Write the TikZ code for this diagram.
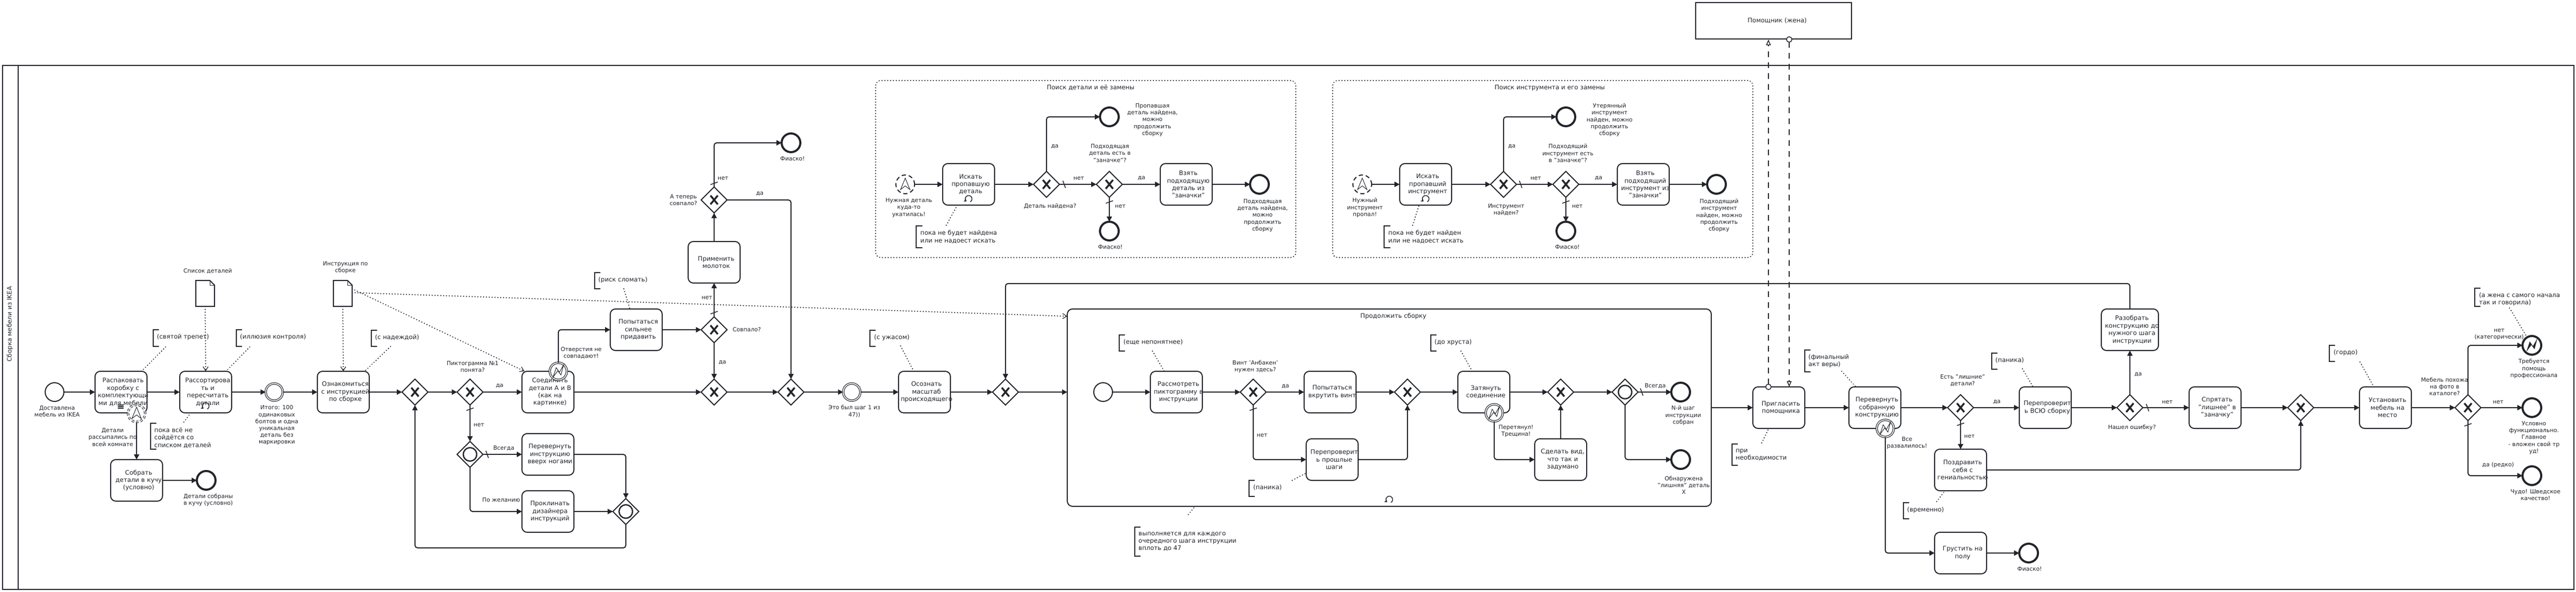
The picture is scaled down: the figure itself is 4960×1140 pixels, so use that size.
\documentclass[tikz,border=0pt]{standalone}
\usepackage{fontspec}
\setmainfont{DejaVu Sans}
\usetikzlibrary{arrows.meta,shapes.geometric}
\definecolor{ink}{HTML}{22242A}
\tikzset{
    x=1pt, y=-1pt,
    task/.style={draw=ink, text=ink, line width=2pt, rounded corners=10pt, minimum width=100pt, minimum height=80pt, inner sep=0pt, outer sep=0pt, text width=100pt, align=center, font=\fontsize{12}{14.4}\selectfont, execute at begin node={\rightskip=-8pt plus 2em\relax}},
    event/.style={draw=ink, circle, line width=2pt, minimum size=36pt, inner sep=0pt, outer sep=0pt, fill=white},
    endevent/.style={event, line width=4pt},
    catch/.style={event, line width=1.2pt, double, double distance=1.8pt, minimum size=33pt},
    sigstart/.style={event, dash pattern=on 8pt off 5.5pt},
    sigbound/.style={catch, dash pattern=on 5pt off 3.5pt},
    gate/.style={draw=ink, diamond, aspect=1, line width=2pt, minimum width=50pt, minimum height=50pt, inner sep=0pt, outer sep=0pt},
    xgate/.style={gate, path picture={\draw[ink, line width=3.5pt] (path picture bounding box.center) +(-7,-8.5) -- +(7,8.5) (path picture bounding box.center) +(7,-8.5) -- +(-7,8.5);}},
    incgate/.style={gate, path picture={\draw[ink, line width=2.5pt] (path picture bounding box.center) circle (13);}},
    evlabel/.style={text=ink, inner sep=0pt, align=center, font=\fontsize{11}{13.2}\selectfont},
    note/.style={text=ink, inner sep=0pt, anchor=west, align=left, font=\fontsize{12}{14.4}\selectfont},
    groupbox/.style={draw=ink, line width=2pt, dash pattern=on 0.5pt off 5pt, line cap=round, rounded corners=10pt, inner sep=0pt},
    docbox/.style={minimum width=36pt, minimum height=50pt, inner sep=0pt, outer sep=0pt},
    flow/.style={draw=ink, line width=2pt, -{Triangle[length=10pt,width=10pt]}},
    bracket/.style={draw=ink, line width=2pt},
    assoc/.style={draw=ink, line width=2pt, dash pattern=on 0.5pt off 5pt, line cap=round},
    dataflow/.style={assoc, -{Straight Barb[length=8pt,width=10pt,line width=1.2pt]}},
    msgout/.style={draw=ink, line width=1.5pt, dash pattern=on 11pt off 10pt, {Circle[open,fill=white,length=12pt,width=12pt]}-{Triangle[open,fill=white,length=11pt,width=9pt]}},
    slashmark/.style={draw=ink, line width=1.5pt},
    pics/loopmark/.style={code={\draw[ink, line width=1.5pt, -{Straight Barb[length=3pt,width=5pt]}] (60:6.5) arc (60:-230:6.5);}},
    pics/boltmark/.style={code={\path[pic actions] (-10,11) -- (-4,-7) -- (2,2) -- (10,-12) -- (5,7) -- (-1,-1) -- cycle;}},
    pics/signalmark/.style={code={\draw[ink, line width=1pt] (0,-12) -- (9,10) -- (0,3) -- (-9,10) -- cycle;}},
    pics/docmark/.style={code={\draw[ink, line width=2pt] (-18,-25) -- (9,-25) -- (18,-16) -- (18,25) -- (-18,25) -- cycle; \draw[ink, line width=1pt] (9,-25) -- (9,-16) -- (18,-16);}},
}
\begin{document}
\begin{tikzpicture}
    \useasboundingbox (0,0) rectangle (4960,1140);

    \node[draw=ink, line width=2pt, minimum width=4951pt, minimum height=1009pt, inner sep=0pt] (pool) at (2480.5,630.5) {};
    \draw ([xshift=31pt]pool.north west)[draw=ink, line width=2pt] -- ([xshift=31pt]pool.south west);
    \node[evlabel, rotate=90, font=\fontsize{12}{14.4}\selectfont] (poolName) at (19,624) {Сборка мебели из IKEA};
    \node[draw=ink, line width=2pt, minimum width=300pt, minimum height=70pt, inner sep=0pt, text=ink, text width=300pt, align=center, font=\fontsize{12}{14.4}\selectfont, execute at begin node={\rightskip=-14pt plus 2em\relax}] (helper) at (3415,40) {Помощник (жена)};

    \node[groupbox, minimum width=809pt, minimum height=341pt] (groupPart) at (2090.5,325.5) {};
    \node[groupbox, minimum width=809pt, minimum height=341pt] (groupTool) at (2970.5,325.5) {};
    \node[task, minimum width=1240pt, minimum height=380pt, text width=1240pt] (subproc) at (2675,785) {};
    \node[evlabel, font=\fontsize{12}{14.4}\selectfont] (groupPartName) at (2100,169) {Поиск детали и её замены};
    \node[evlabel, font=\fontsize{12}{14.4}\selectfont] (groupToolName) at (2984,169) {Поиск инструмента и его замены};
    \node[evlabel, font=\fontsize{12}{14.4}\selectfont] (subprocName) at (2683,609) {Продолжить сборку};

    \node[task] (unpack) at (233,755) {Распаковать\\коробку с\\комплектующи\\ми для мебели};
    \node[task] (collect) at (263,925) {Собрать\\детали в кучу\\(условно)};
    \node[task] (sort) at (396,755) {Рассортирова\\ть и\\пересчитать\\детали};
    \node[task] (readdoc) at (661,755) {Ознакомиться\\с инструкцией\\по сборке};
    \node[task] (join) at (1055,755) {Соединить\\детали А и В\\(как на\\картинке)};
    \node[task] (flip) at (1055,875) {Перевернуть\\инструкцию\\вверх ногами};
    \node[task] (curse) at (1055,985) {Проклинать\\дизайнера\\инструкций};
    \node[task] (press) at (1225,635) {Попытаться\\сильнее\\придавить};
    \node[task] (hammer) at (1375,505) {Применить\\молоток};
    \node[task] (realize) at (1780,755) {Осознать\\масштаб\\происходящего};

    \node[task] (seekPart) at (1865,355) {Искать\\пропавшую\\деталь};
    \node[task] (takePart) at (2284,355) {Взять\\подходящую\\деталь из\\"заначки"};
    \node[task] (seekTool) at (2745,355) {Искать\\пропавший\\инструмент};
    \node[task] (takeTool) at (3164,355) {Взять\\подходящий\\инструмент из\\"заначки"};

    \node[task] (view) at (2265,755) {Рассмотреть\\пиктограмму в\\инструкции};
    \node[task] (tryScrew) at (2561,755) {Попытаться\\вкрутить винт};
    \node[task] (recheck) at (2565,885) {Перепроверит\\ь прошлые\\шаги};
    \node[task] (tighten) at (2857,755) {Затянуть\\соединение};
    \node[task] (pretend) at (3005,885) {Сделать вид,\\что так и\\задумано};

    \node[task] (invite) at (3425,785) {Пригласить\\помощника};
    \node[task] (flipAll) at (3610,785) {Перевернуть\\собранную\\конструкцию};
    \node[task] (congrats) at (3775,905) {Поздравить\\себя с\\гениальностью};
    \node[task] (sad) at (3775,1065) {Грустить на\\полу};
    \node[task] (recheckAll) at (3938,785) {Перепроверит\\ь ВСЮ сборку};
    \node[task, minimum width=110pt, text width=110pt] (disasm) at (4101,635) {Разобрать\\конструкцию до\\нужного шага\\инструкции};
    \node[task] (hide) at (4265,785) {Спрятать\\"лишнее" в\\"заначку"};
    \node[task] (place) at (4593,785) {Установить\\мебель на\\место};

    \node[event] (start) at (105,755) {};
    \node[sigbound] (scatter) at (263,796) {};
    \node[endevent] (collected) at (397,925) {};
    \node[catch] (tally) at (528,755) {};
    \node[catch] (boltJoin) at (1075,715) {};
    \node[endevent] (fiasco) at (1523,275) {};
    \node[catch] (relief) at (1640,755) {};

    \node[sigstart] (lostPart) at (1743,355) {};
    \node[endevent] (foundPart) at (2136,225) {};
    \node[endevent] (noPart) at (2136,445) {};
    \node[endevent] (sparePart) at (2425,355) {};
    \node[sigstart] (lostTool) at (2623,355) {};
    \node[endevent] (foundTool) at (3015,225) {};
    \node[endevent] (noTool) at (3015,445) {};
    \node[endevent] (spareTool) at (3305,355) {};

    \node[event] (subStart) at (2124,755) {};
    \node[catch] (boltCrack) at (2877,795) {};
    \node[endevent] (stepEnd) at (3236,755) {};
    \node[endevent] (extraEnd) at (3236,885) {};

    \node[catch] (boltFall) at (3630,825) {};
    \node[endevent] (sadEnd) at (3906,1065) {};
    \node[endevent] (proEnd) at (4875,665) {};
    \node[endevent] (okEnd) at (4875,785) {};
    \node[endevent] (miracleEnd) at (4875,916) {};

    \node[xgate] (gwLoop) at (799,755) {};
    \node[xgate] (gwIcon) at (905,755) {};
    \node[incgate] (incFlip) at (905,875) {};
    \node[incgate] (incJoin) at (1205,985) {};
    \node[xgate] (gwFit) at (1375,635) {};
    \node[xgate] (gwAgain) at (1375,385) {};
    \node[xgate] (gwJoined) at (1375,755) {};
    \node[xgate] (gwMerge) at (1523,755) {};
    \node[xgate] (gwCont) at (1936,755) {};
    \node[xgate] (gwPart) at (2015,355) {};
    \node[xgate] (gwSpare) at (2136,355) {};
    \node[xgate] (gwTool) at (2895,355) {};
    \node[xgate] (gwSpareTool) at (3015,355) {};
    \node[xgate] (gwScrew) at (2413,755) {};
    \node[xgate] (gwTight) at (2710,755) {};
    \node[xgate] (gwOk) at (3005,755) {};
    \node[incgate] (incDone) at (3129,755) {};
    \node[xgate] (gwExtra) at (3775,785) {};
    \node[xgate] (gwFound) at (4101,785) {};
    \node[xgate] (gwPlace) at (4430,785) {};
    \node[xgate] (gwLook) at (4752,785) {};

    \node[docbox] (listDoc) at (395,565) {};
    \pic at (395,565) {docmark};
    \node[docbox] (manualDoc) at (660,565) {};
    \pic at (660,565) {docmark};

    \draw (232,783)[ink, line width=1.5pt] +(-5.5,-3) -- +(5.5,-3) +(-5.5,0) -- +(5.5,0) +(-5.5,3) -- +(5.5,3);
    \pic at (396,782) {loopmark};
    \pic at (1865,383) {loopmark};
    \pic at (2745,383) {loopmark};
    \pic at (2675,962) {loopmark};
    \pic at (263,796) {signalmark};
    \pic at (1743,355) {signalmark};
    \pic at (2623,355) {signalmark};
    \pic[draw=ink, line width=1pt] at (1075,715) {boltmark};
    \pic[draw=ink, line width=1pt] at (2877,795) {boltmark};
    \pic[draw=ink, line width=1pt] at (3630,825) {boltmark};
    \pic[draw=ink, fill=ink] at (4875,665) {boltmark};

    \draw (start)[flow] -- (unpack);
    \draw (unpack)[flow] -- (sort);
    \draw (sort)[flow] -- (tally);
    \draw (tally)[flow] -- (readdoc);
    \draw (readdoc)[flow] -- (gwLoop);
    \draw (gwLoop)[flow] -- (gwIcon);
    \draw (gwIcon)[flow] -- (join);
    \draw (join)[flow] -- (gwJoined);
    \draw (gwJoined)[flow] -- (gwMerge);
    \draw (gwMerge)[flow] -- (relief);
    \draw (relief)[flow] -- (realize);
    \draw (realize)[flow] -- (gwCont);
    \draw (gwCont)[flow] -- (gwCont -| subproc.west);
    \draw (scatter.south)[flow] -- (collect.north);
    \draw (collect)[flow] -- (collected);
    \draw (gwIcon.south)[flow] -- (incFlip.north);
    \draw (incFlip)[flow] -- (flip);
    \draw (incFlip.south)[flow, rounded corners=5pt] |- (curse.west);
    \draw (flip.east)[flow, rounded corners=5pt] -| (incJoin.north);
    \draw (curse)[flow] -- (incJoin);
    \coordinate (backPt) at (1205,1055);
    \draw (incJoin.south)[flow, rounded corners=5pt] -- (backPt) -| (gwLoop.south);
    \draw (boltJoin.north)[flow, rounded corners=5pt] |- (press.west);
    \draw (press)[flow] -- (gwFit);
    \draw (gwFit.north)[flow] -- (hammer.south);
    \draw (gwFit.south)[flow] -- (gwJoined.north);
    \draw (hammer.north)[flow] -- (gwAgain.south);
    \draw (gwAgain.north)[flow, rounded corners=5pt] |- (fiasco.west);
    \draw (gwAgain.east)[flow, rounded corners=5pt] -| (gwMerge.north);

    \draw (lostPart)[flow] -- (seekPart);
    \draw (seekPart)[flow] -- (gwPart);
    \draw (gwPart)[flow] -- (gwSpare);
    \draw (gwPart.north)[flow, rounded corners=5pt] |- (foundPart.west);
    \draw (gwSpare)[flow] -- (takePart);
    \draw (takePart)[flow] -- (sparePart);
    \draw (gwSpare.south)[flow] -- (noPart.north);
    \draw (lostTool)[flow] -- (seekTool);
    \draw (seekTool)[flow] -- (gwTool);
    \draw (gwTool)[flow] -- (gwSpareTool);
    \draw (gwTool.north)[flow, rounded corners=5pt] |- (foundTool.west);
    \draw (gwSpareTool)[flow] -- (takeTool);
    \draw (takeTool)[flow] -- (spareTool);
    \draw (gwSpareTool.south)[flow] -- (noTool.north);

    \draw (subStart)[flow] -- (view);
    \draw (view)[flow] -- (gwScrew);
    \draw (gwScrew)[flow] -- (tryScrew);
    \draw (tryScrew)[flow] -- (gwTight);
    \draw (gwScrew.south)[flow, rounded corners=5pt] |- (recheck.west);
    \draw (recheck.east)[flow, rounded corners=5pt] -| (gwTight.south);
    \draw (gwTight)[flow] -- (tighten);
    \draw (tighten)[flow] -- (gwOk);
    \draw (boltCrack.south)[flow, rounded corners=5pt] |- (pretend.west);
    \draw (pretend.north)[flow] -- (gwOk.south);
    \draw (gwOk)[flow] -- (incDone);
    \draw (incDone)[flow] -- (stepEnd);
    \draw (incDone.south)[flow, rounded corners=5pt] |- (extraEnd.west);

    \draw (subproc.east)[flow] -- (invite.west);
    \draw (invite)[flow] -- (flipAll);
    \draw (flipAll)[flow] -- (gwExtra);
    \draw (gwExtra)[flow] -- (recheckAll);
    \draw (recheckAll)[flow] -- (gwFound);
    \draw (gwFound.north)[flow] -- (disasm.south);
    \draw (gwFound)[flow] -- (hide);
    \draw (hide)[flow] -- (gwPlace);
    \draw (gwPlace)[flow] -- (place);
    \draw (place)[flow] -- (gwLook);
    \draw (gwLook)[flow] -- (okEnd);
    \draw (gwLook.north)[flow, rounded corners=5pt] |- (proEnd.west);
    \draw (gwLook.south)[flow, rounded corners=5pt] |- (miracleEnd.west);
    \draw (gwExtra.south)[flow] -- (congrats.north);
    \draw (congrats.east)[flow, rounded corners=5pt] -| (gwPlace.south);
    \draw (boltFall.south)[flow, rounded corners=5pt] |- (sad.west);
    \draw (sad)[flow] -- (sadEnd);
    \coordinate (retryPt) at (4101,546);
    \draw (disasm.north)[flow, rounded corners=5pt] -- (retryPt) -| (gwCont.north);

    \draw ([xshift=-20pt]invite.north)[msgout, shorten <=-6pt] -- ([xshift=-10pt]helper.south);
    \draw ([xshift=30pt]helper.south)[msgout, shorten <=-6pt] -- ([xshift=20pt]invite.north);

    \draw (listDoc.south)[dataflow] -- (sort.north);
    \draw (manualDoc.south)[dataflow] -- (readdoc.north);
    \coordinate (contTip) at (2055,609);
    \draw ([yshift=1.5pt]manualDoc.east)[dataflow] -- (contTip);
    \draw ([yshift=9pt]manualDoc.east)[dataflow] -- ([xshift=5pt]join.north west);

    \draw (905,788)[slashmark] +(-7,2.5) -- +(7,-2.5);
    \draw (1375,602)[slashmark] +(-7,2.5) -- +(7,-2.5);
    \draw (1375,353)[slashmark] +(-7,2.5) -- +(7,-2.5);
    \draw (2136,389)[slashmark] +(-7,2.5) -- +(7,-2.5);
    \draw (3015,389)[slashmark] +(-7,2.5) -- +(7,-2.5);
    \draw (2413,788)[slashmark] +(-7,2.5) -- +(7,-2.5);
    \draw (3775,817)[slashmark] +(-7,2.5) -- +(7,-2.5);
    \draw (4752,818)[slashmark] +(-7,2.5) -- +(7,-2.5);
    \draw (938,875)[slashmark] +(-2.5,-7) -- +(2.5,7);
    \draw (2049,355)[slashmark] +(-2.5,-7) -- +(2.5,7);
    \draw (2928,355)[slashmark] +(-2.5,-7) -- +(2.5,7);
    \draw (3161,755)[slashmark] +(-2.5,-7) -- +(2.5,7);
    \draw (4135,785)[slashmark] +(-2.5,-7) -- +(2.5,7);

    \node[evlabel] (startName) at (110,792) {Доставлена\\мебель из IKEA};
    \node[evlabel] (scatterName) at (217,842) {Детали\\рассыпались по\\всей комнате};
    \node[evlabel] (collectedName) at (401,963) {Детали собраны\\в кучу (условно)};
    \node[evlabel] (tallyName) at (533,819) {Итого: 100\\одинаковых\\болтов и одна\\уникальная\\деталь без\\маркировки};
    \node[evlabel] (listName) at (400,522) {Список деталей};
    \node[evlabel] (manualName) at (665,515) {Инструкция по\\сборке};
    \node[evlabel] (iconName) at (910,706) {Пиктограмма №1\\понята?};
    \node[evlabel] (iconYes) at (962,743) {да};
    \node[evlabel] (iconNo) at (922,818) {нет};
    \node[evlabel] (alwaysA) at (970,863) {Всегда};
    \node[evlabel] (wishA) at (965,963) {По желанию};
    \node[evlabel] (holesName) at (1119,680) {Отверстия не\\совпадают!};
    \node[evlabel] (fitName) at (1438,634) {Совпало?};
    \node[evlabel] (fitNo) at (1361,573) {нет};
    \node[evlabel] (fitYes) at (1391,698) {да};
    \node[evlabel] (againName) at (1316,385) {А теперь\\совпало?};
    \node[evlabel] (againNo) at (1392,343) {нет};
    \node[evlabel] (againYes) at (1463,373) {да};
    \node[evlabel] (fiascoName) at (1526,306) {Фиаско!};
    \node[evlabel] (reliefName) at (1645,792) {Это был шаг 1 из\\47))};

    \node[evlabel] (lostPartName) at (1750,400) {Нужная деталь\\куда-то\\укатилась!};
    \node[evlabel] (gwPartName) at (2022,397) {Деталь найдена?};
    \node[evlabel] (partYes) at (2031,282) {да};
    \node[evlabel] (partNo) at (2077,343) {нет};
    \node[evlabel] (foundPartName) at (2219,231) {Пропавшая\\деталь найдена,\\можно\\продолжить\\сборку};
    \node[evlabel] (gwSpareName) at (2137,295) {Подходящая\\деталь есть в\\"заначке"?};
    \node[evlabel] (spareYes) at (2198,343) {да};
    \node[evlabel] (spareNo) at (2157,397) {нет};
    \node[evlabel] (noPartName) at (2138,476) {Фиаско!};
    \node[evlabel] (sparePartName) at (2431,415) {Подходящая\\деталь найдена,\\можно\\продолжить\\сборку};

    \node[evlabel] (lostToolName) at (2628,400) {Нужный\\инструмент\\пропал!};
    \node[evlabel] (gwToolName) at (2900,404) {Инструмент\\найден?};
    \node[evlabel] (toolYes) at (2911,282) {да};
    \node[evlabel] (toolNo) at (2957,343) {нет};
    \node[evlabel] (foundToolName) at (3099,231) {Утерянный\\инструмент\\найден, можно\\продолжить\\сборку};
    \node[evlabel] (gwSpareToolName) at (3019,295) {Подходящий\\инструмент есть\\в "заначке"?};
    \node[evlabel] (spareToolYes) at (3078,343) {да};
    \node[evlabel] (spareToolNo) at (3037,397) {нет};
    \node[evlabel] (noToolName) at (3018,476) {Фиаско!};
    \node[evlabel] (spareToolName) at (3310,415) {Подходящий\\инструмент\\найден, можно\\продолжить\\сборку};

    \node[evlabel] (gwScrewName) at (2417,706) {Винт 'Анбакен'\\нужен здесь?};
    \node[evlabel] (screwYes) at (2475,744) {да};
    \node[evlabel] (screwNo) at (2430,838) {нет};
    \node[evlabel] (crackName) at (2919,830) {Перетянул!\\Трещина!};
    \node[evlabel] (alwaysB) at (3187,743) {Всегда};
    \node[evlabel] (stepName) at (3241,800) {N-й шаг\\инструкции\\собран};
    \node[evlabel] (extraName) at (3242,934) {Обнаружена\\"лишняя" деталь\\Х};

    \node[evlabel] (fallName) at (3672,853) {Все\\развалилось!};
    \node[evlabel] (gwExtraName) at (3779,733) {Есть "лишние"\\детали?};
    \node[evlabel] (extraYes) at (3845,774) {да};
    \node[evlabel] (extraNo) at (3792,840) {нет};
    \node[evlabel] (sadName) at (3908,1096) {Фиаско!};
    \node[evlabel] (gwFoundName) at (4105,823) {Нашел ошибку?};
    \node[evlabel] (foundYes) at (4117,721) {да};
    \node[evlabel] (foundNo) at (4173,774) {нет};
    \node[evlabel] (gwLookName) at (4707,744) {Мебель похожа\\на фото в\\каталоге?};
    \node[evlabel] (lookHard) at (4812,644) {нет\\(категорически)};
    \node[evlabel] (lookNo) at (4810,774) {нет};
    \node[evlabel] (lookYes) at (4810,895) {да (редко)};
    \node[evlabel] (proName) at (4879,710) {Требуется\\помощь\\профессионала};
    \node[evlabel] (okName) at (4879,843) {Условно\\функционально.\\Главное\\- вложен свой тр\\уд!};
    \node[evlabel] (miracleName) at (4882,953) {Чудо! Шведское\\качество!};

    \node[note] (noteAwe) at (302,649) {(святой трепет)};
    \draw[bracket] (306,635) -| (295,667) -- (306,667);
    \coordinate (aweEnd) at (319,668);
    \draw (aweEnd)[assoc] -- (unpack);
    \node[note] (noteControl) at (462,649) {(иллюзия контроля)};
    \draw[bracket] (466,635) -| (455,667) -- (466,667);
    \coordinate (controlEnd) at (481,668);
    \draw (controlEnd)[assoc] -- (sort);
    \node[note] (noteHope) at (722,650) {(с надеждой)};
    \draw[bracket] (726,636) -| (715,667) -- (726,667);
    \coordinate (hopeEnd) at (752,667);
    \draw (hopeEnd)[assoc] -- (readdoc);
    \node[note] (noteUntil) at (297,843) {пока всё не\\сойдётся со\\списком деталей};
    \draw[bracket] (301,815) -| (290,865) -- (301,865);
    \coordinate (untilEnd) at (354,813);
    \draw (untilEnd)[assoc] -- (sort);
    \node[note] (noteRisk) at (1152,539) {(риск сломать)};
    \draw[bracket] (1156,525) -| (1145,556) -- (1156,556);
    \coordinate (riskEnd) at (1201,556);
    \draw (riskEnd)[assoc] -- (press);
    \node[note] (noteTerror) at (1683,650) {(с ужасом)};
    \draw[bracket] (1686,636) -| (1675,667) -- (1686,667);
    \coordinate (terrorEnd) at (1734,666);
    \draw (terrorEnd)[assoc] -- (realize);
    \node[note] (notePart) at (1772,456) {пока не будет найдена\\или не надоест искать};
    \draw[bracket] (1776,435) -| (1764,477) -- (1776,477);
    \coordinate (partEnd) at (1822,434);
    \draw (partEnd)[assoc] -- (seekPart);
    \node[note] (noteTool) at (2673,456) {пока не будет найден\\или не надоест искать};
    \draw[bracket] (2677,435) -| (2665,477) -- (2677,477);
    \coordinate (toolEnd) at (2720,434);
    \draw (toolEnd)[assoc] -- (seekTool);
    \node[note] (noteMurk) at (2163,659) {(еще непонятнее)};
    \draw[bracket] (2166,645) -| (2155,676) -- (2166,676);
    \coordinate (murkEnd) at (2219,676);
    \draw (murkEnd)[assoc] -- (view);
    \node[note] (notePanic) at (2413,939) {(паника)};
    \draw[bracket] (2416,925) -| (2405,956) -- (2416,956);
    \coordinate (panicEnd) at (2488,925);
    \draw (panicEnd)[assoc] -- (recheck);
    \node[note] (noteEach) at (2192,1043) {выполняется для каждого\\очередного шага инструкции\\вплоть до 47};
    \draw[bracket] (2196,1015) -| (2185,1071) -- (2196,1071);
    \coordinate (eachEnd) at (2288,991);
    \draw (eachEnd)[assoc] -- ([xshift=-374pt]subproc.south);
    \node[note] (noteCrunch) at (2762,659) {(до хруста)};
    \draw[bracket] (2766,645) -| (2755,676) -- (2766,676);
    \coordinate (crunchEnd) at (2813,676);
    \draw (crunchEnd)[assoc] -- (tighten);
    \node[note] (noteNeed) at (3342,876) {при\\необходимости};
    \draw[bracket] (3346,855) -| (3335,896) -- (3346,896);
    \coordinate (needEnd) at (3392,853);
    \draw (needEnd)[assoc] -- (invite);
    \node[note] (noteFaith) at (3482,695) {(финальный\\акт веры)};
    \draw[bracket] (3486,674) -| (3475,716) -- (3486,716);
    \coordinate (faithEnd) at (3546,715);
    \draw (faithEnd)[assoc] -- (flipAll);
    \node[note] (notePanicAll) at (3842,694) {(паника)};
    \draw[bracket] (3846,680) -| (3835,711) -- (3846,711);
    \coordinate (panicAllEnd) at (3894,710);
    \draw (panicAllEnd)[assoc] -- (recheckAll);
    \node[note] (noteTemp) at (3672,982) {(временно)};
    \draw[bracket] (3676,968) -| (3665,999) -- (3676,999);
    \coordinate (tempEnd) at (3729,966);
    \draw (tempEnd)[assoc] -- (congrats);
    \node[note] (noteProud) at (4493,679) {(гордо)};
    \draw[bracket] (4496,665) -| (4485,696) -- (4496,696);
    \coordinate (proudEnd) at (4544,697);
    \draw (proudEnd)[assoc] -- (place);
    \node[note] (noteWife) at (4773,576) {(а жена с самого начала\\так и говорила)};
    \draw[bracket] (4776,555) -| (4765,590) -- (4776,590);
    \coordinate (wifeEnd) at (4832,593);
    \draw (wifeEnd)[assoc] -- (proEnd);
\end{tikzpicture}
\end{document}
